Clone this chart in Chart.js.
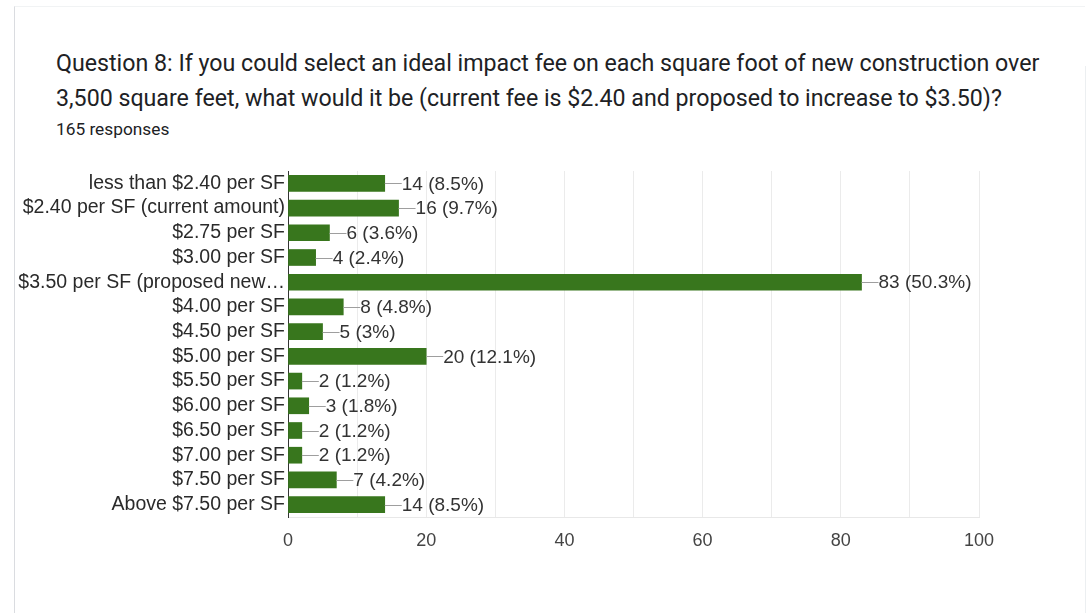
<!DOCTYPE html>
<html>
<head>
<meta charset="utf-8">
<script src="https://cdn.jsdelivr.net/npm/chart.js@4/dist/chart.umd.min.js"></script>
<style>
  html, body { margin: 0; padding: 0; background: #fff; }
  body { width: 1088px; height: 613px; position: relative; overflow: hidden; }
  .card {
    position: absolute; left: 14px; top: 6px; width: 1071px; height: 620px;
    border-left: 1px solid #dadce0; border-top: 1px solid #f1f3f4;
    box-sizing: border-box;
  }
  .card-edge {
    position: absolute; left: 1085px; top: 66px; width: 1px; height: 560px; background: #eceff1;
  }
  .title {
    position: absolute; left: 56px; top: 46px; width: 1030px;
    font-family: Roboto, "Noto Sans", sans-serif; font-size: 23.2px; line-height: 35px;
    color: #202124; white-space: nowrap;
  }
  .count {
    position: absolute; left: 56px; top: 119px;
    font-family: Roboto, "Noto Sans", sans-serif; font-size: 17.3px; line-height: 20px; color: #202124;
  }
  canvas { position: absolute; left: 0; top: 0; }
</style>
</head>
<body>
<div class="card"></div>
<div class="card-edge"></div>
<div class="title">Question 8: If you could select an ideal impact fee on each square foot of new construction over<br>3,500 square feet, what would it be (current fee is $2.40 and proposed to increase to $3.50)?</div>
<div class="count">165 responses</div>
<canvas id="chart" width="1088" height="613"></canvas>
<script>
// Answer options, in the order they appear on the form
const categories = [
  'less than $2.40 per SF',
  '$2.40 per SF (current amount)',
  '$2.75 per SF',
  '$3.00 per SF',
  '$3.50 per SF (proposed new\u2026',
  '$4.00 per SF',
  '$4.50 per SF',
  '$5.00 per SF',
  '$5.50 per SF',
  '$6.00 per SF',
  '$6.50 per SF',
  '$7.00 per SF',
  '$7.50 per SF',
  'Above $7.50 per SF'
];
// Number of responses per option
const counts = [14, 16, 6, 4, 83, 8, 5, 20, 2, 3, 2, 2, 7, 14];
// Share of all responses, as shown next to each bar
const shares = ['8.5%', '9.7%', '3.6%', '2.4%', '50.3%', '4.8%', '3%', '12.1%', '1.2%', '1.8%', '1.2%', '1.2%', '4.2%', '8.5%'];
// Labelled ticks on the count axis
const tickLabels = [0, 20, 40, 60, 80, 100];

const FONT = '"Liberation Sans", Arial, sans-serif';

// Leader line plus "count (share)" text at the end of each bar
const valueLabels = {
  id: 'valueLabels',
  afterDatasetsDraw(chart) {
    const { ctx } = chart;
    const meta = chart.getDatasetMeta(0);
    const xScale = chart.scales.x;
    ctx.save();
    ctx.font = '19px ' + FONT;
    ctx.textBaseline = 'middle';
    ctx.textAlign = 'left';
    meta.data.forEach((bar, i) => {
      const xEnd = xScale.getPixelForValue(counts[i]);
      const y = Math.round(bar.y) + 0.5;
      ctx.strokeStyle = '#9e9e9e';
      ctx.lineWidth = 1;
      ctx.beginPath();
      ctx.moveTo(xEnd, y);
      ctx.lineTo(xEnd + 17, y);
      ctx.stroke();
      ctx.fillStyle = '#333333';
      ctx.fillText(counts[i] + ' (' + shares[i] + ')', xEnd + 17, bar.y + 1);
    });
    ctx.restore();
  }
};

new Chart(document.getElementById('chart'), {
  type: 'bar',
  data: {
    labels: categories,
    datasets: [{
      data: counts,
      backgroundColor: '#38761d',
      borderWidth: 0,
      barThickness: 16
    }]
  },
  options: {
    indexAxis: 'y',
    responsive: false,
    devicePixelRatio: 1,
    animation: false,
    layout: { padding: { left: 0, right: 109, top: 171, bottom: 56 } },
    plugins: {
      legend: { display: false },
      tooltip: { enabled: false }
    },
    scales: {
      x: {
        min: 0,
        max: 100,
        afterFit(scale) { scale.height = 40; },
        ticks: {
          stepSize: 10,
          autoSkip: false,
          maxRotation: 0,
          padding: 13,
          color: '#444444',
          font: { family: FONT, size: 18 },
          callback: (v) => tickLabels.includes(v) ? String(v) : ''
        },
        grid: { color: '#ebebeb', lineWidth: 1, drawTicks: false },
        border: { display: true, color: '#e8e8e8' }
      },
      y: {
        afterFit(scale) { scale.width = 288; },
        ticks: {
          autoSkip: false,
          padding: 3,
          color: '#2a2a2a',
          font: { family: FONT, size: 19.5 }
        },
        grid: { display: false, drawTicks: false },
        border: { display: true, color: '#333333', width: 1 }
      }
    }
  },
  plugins: [valueLabels]
});
</script>
</body>
</html>
